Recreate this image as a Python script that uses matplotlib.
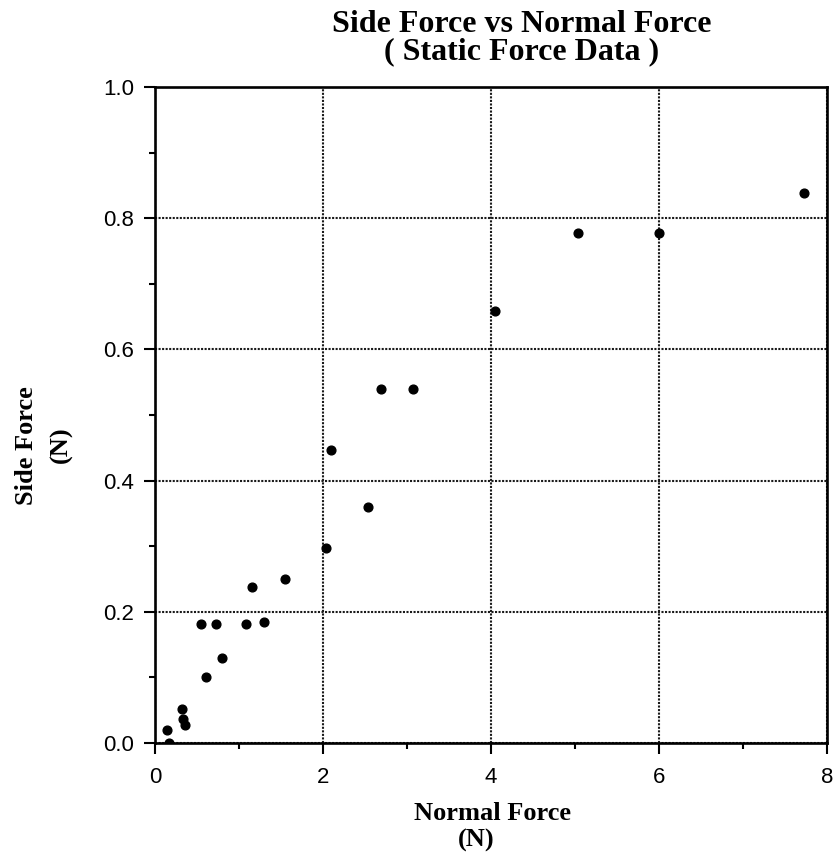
import matplotlib
matplotlib.use('Agg')
import matplotlib.pyplot as plt
from matplotlib.ticker import MultipleLocator, FormatStrFormatter

# datos (N)
normal_force = [0.14, 0.17, 0.32, 0.33, 0.36, 0.55, 0.61, 0.73, 0.80, 1.08,
                1.15, 1.30, 1.55, 2.03, 2.10, 2.54, 2.69, 3.07, 4.05, 5.04,
                6.00, 7.73]
side_force = [0.020, 0.000, 0.052, 0.036, 0.028, 0.181, 0.101, 0.181, 0.130, 0.181,
              0.238, 0.185, 0.250, 0.298, 0.447, 0.359, 0.540, 0.540, 0.658, 0.777,
              0.777, 0.839]

W, H = 835, 856
fig = plt.figure(figsize=(W / 100, H / 100), dpi=100)
ax = fig.add_axes([155 / W, 1 - 743 / H, 672 / W, 656 / H])

ax.plot(normal_force, side_force, 'o', color='black', markersize=6.3, zorder=3)

ax.set_xlim(0, 8)
ax.set_ylim(0, 1.0)
ax.xaxis.set_major_locator(MultipleLocator(2))
ax.xaxis.set_minor_locator(MultipleLocator(1))
ax.yaxis.set_major_locator(MultipleLocator(0.2))
ax.yaxis.set_minor_locator(MultipleLocator(0.1))
ax.yaxis.set_major_formatter(FormatStrFormatter('%.1f'))

# rejilla punteada en las marcas principales
ax.grid(True, which='major', color='#1a1a1a', linewidth=1.5,
        linestyle=(0, (1, 0.7)), zorder=1)

for s in ax.spines.values():
    s.set_linewidth(1.9)
    s.set_color('black')

ax.tick_params(which='major', direction='out', length=8, width=1.5,
               labelsize=16, colors='black')
ax.tick_params(which='minor', direction='out', length=4.5, width=1.5)
ax.tick_params(axis='x', which='major', pad=9)
ax.tick_params(axis='y', which='major', pad=7)
for lbl in ax.get_xticklabels() + ax.get_yticklabels():
    lbl.set_fontfamily('Liberation Sans')

serif = dict(family='Liberation Serif', weight='bold')

# titulo en dos lineas
fig.text(522 / W, 1 - 32 / H, 'Side Force vs Normal Force', ha='center',
         va='baseline', fontsize=23, **serif)
fig.text(522 / W, 1 - 59 / H, '( Static Force Data )', ha='center',
         va='baseline', fontsize=23, **serif)

# etiquetas de los ejes
fig.text(493 / W, 1 - 820 / H, 'Normal Force', ha='center', va='baseline',
         fontsize=19, **serif)
fig.text(476 / W, 1 - 847 / H, '(N)', ha='center', va='baseline',
         fontsize=19, **serif)
fig.text(33 / W, 1 - 446 / H, 'Side Force', ha='center', va='baseline',
         rotation=90, rotation_mode='anchor', fontsize=19, **serif)
fig.text(67 / W, 1 - 445 / H, '(N)', ha='center', va='baseline',
         rotation=90, rotation_mode='anchor', fontsize=19, **serif)

fig.savefig('out.png', dpi=100)
